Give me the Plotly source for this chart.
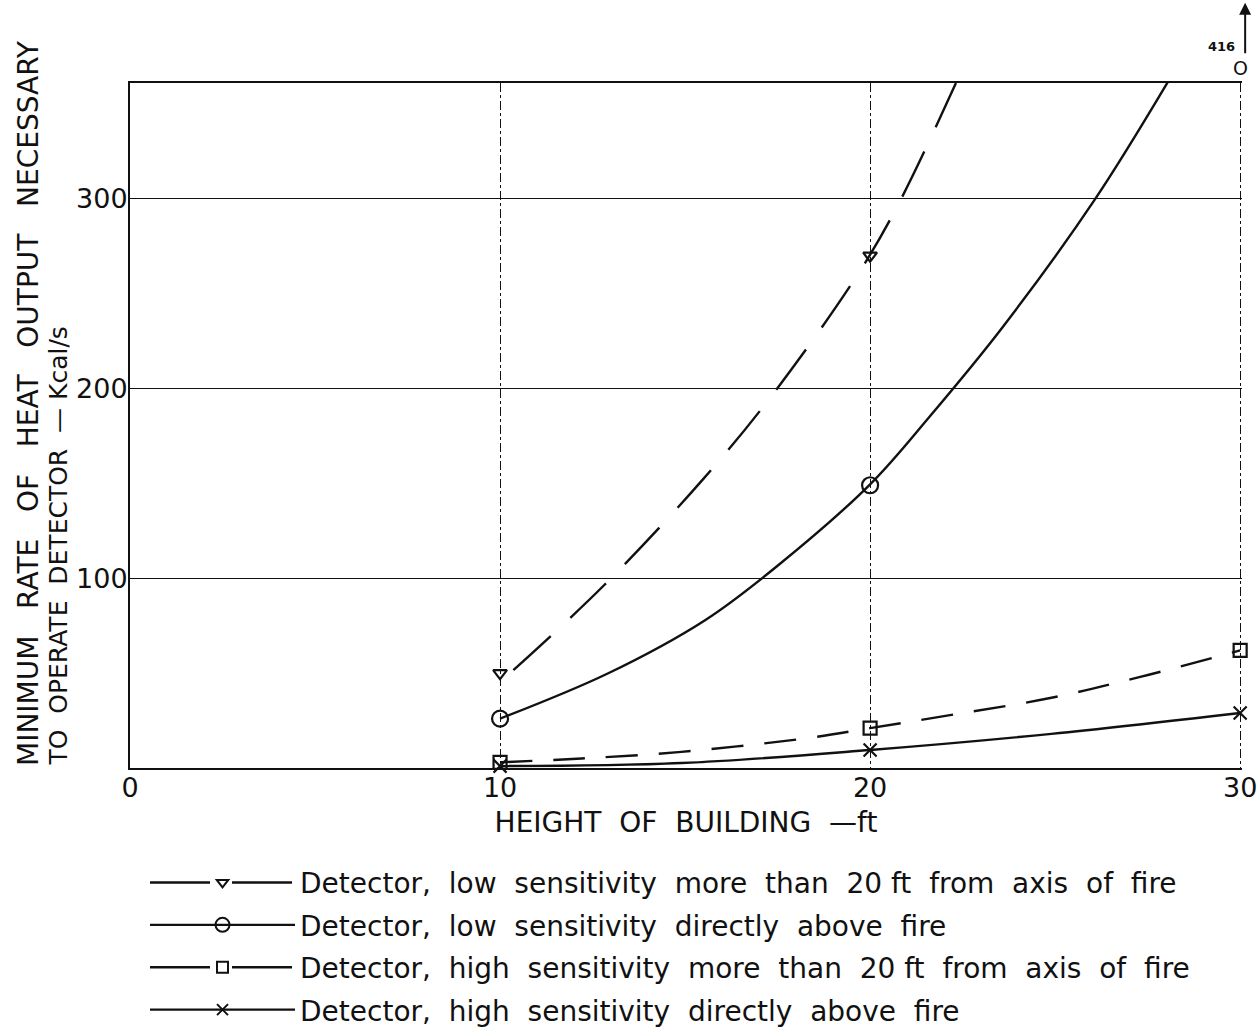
import plotly.graph_objects as go

# ---- data ----
heights = [10, 20, 30]
low_far = [50, 270, None]        # low sensitivity, > 20 ft from axis (off scale at 30 ft)
low_above = [26, 149, 416]       # low sensitivity, directly above fire (416 off scale)
high_far = [3, 21, 62]           # high sensitivity, > 20 ft from axis
high_above = [1, 9.5, 29]        # high sensitivity, directly above fire

# drawn curves
low_far_cx = [10.36, 12.81, 15.5, 17.45, 19.76, 20.84, 22.32]
low_far_cy = [51.6, 96.3, 152.5, 199, 263, 300, 361]
low_above_cx = [10, 12.91, 15.54, 17.5, 20, 21.6, 23.58, 26.08, 28.06]
low_above_cy = [26, 49.8, 77.9, 106.6, 149.5, 185, 232.3, 299.8, 362]
high_far_cx = [10, 12.2, 14.9, 18.4, 20, 22.2, 24.9, 27.3, 30]
high_far_cy = [3, 5, 8.5, 16, 21, 28, 37, 48, 62]
high_above_cx = [10, 14.9, 20, 24.9, 30]
high_above_cy = [1, 2.6, 9.5, 18, 29]

x_ticks = [0, 10, 20, 30]
x_ticklabels = ["0", "10", "20", "30"]
y_ticks = [100, 200, 300]
y_ticklabels = ["100", "200", "300"]

NB = "\u00a0"
S = NB + " "          # wide word gap like the stencil lettering
W = NB + NB + " "     # wider gap used on the long caption line
names = [
    f"Detector,{S}low{S}sensitivity{S}more{S}than{S}20{NB}ft{S}from{S}axis{S}of{S}fire",
    f"Detector,{S}low{S}sensitivity{S}directly{S}above{S}fire",
    f"Detector,{S}high{S}sensitivity{S}more{S}than{S}20{NB}ft{S}from{S}axis{S}of{S}fire",
    f"Detector,{S}high{S}sensitivity{S}directly{S}above{S}fire",
]

INK = "#111111"
FONT = "DejaVu Sans"

series = [
    dict(cx=low_far_cx, cy=low_far_cy, y=low_far, dash="50px,27px",
         symbol="triangle-down-open", size=12, clip=False),
    dict(cx=low_above_cx, cy=low_above_cy, y=low_above, dash="solid",
         symbol="circle-open", size=16, clip=True),
    dict(cx=high_far_cx, cy=high_far_cy, y=high_far, dash="32px,21px",
         symbol="square-open", size=13, clip=False),
    dict(cx=high_above_cx, cy=high_above_cy, y=high_above, dash="solid",
         symbol="x-thin-open", size=13, clip=False),
]
legend_dash = ["60px,22px", "solid", "60px,22px", "solid"]

fig = go.Figure()
for i, s in enumerate(series):
    fig.add_trace(go.Scatter(
        x=s["cx"], y=s["cy"], mode="lines",
        line=dict(color=INK, width=2.4, dash=s["dash"], shape="spline", smoothing=1.0),
        showlegend=False, hoverinfo="skip"))
    fig.add_trace(go.Scatter(
        x=heights, y=s["y"], mode="markers", cliponaxis=s["clip"],
        marker=dict(symbol=s["symbol"], size=s["size"], color=INK,
                    line=dict(width=2.2, color=INK)),
        showlegend=False))
    fig.add_trace(go.Scatter(
        x=[None], y=[None], mode="lines+markers", name=names[i],
        legendgroup=f"g{i}",
        line=dict(color=INK, width=2.4, dash=legend_dash[i]),
        marker=dict(symbol=s["symbol"], size=s["size"] - 2, color=INK,
                    line=dict(width=2, color=INK))))

fig.update_layout(
    width=1260, height=1027,
    margin=dict(l=130, r=18, t=83, b=259, autoexpand=False),
    paper_bgcolor="white", plot_bgcolor="white",
    font=dict(family=FONT, color=INK, size=22),
    showlegend=True,
    legend=dict(x=0.0135, y=-0.131, xanchor="left", yanchor="top",
                font=dict(size=28, family=FONT, color=INK),
                tracegroupgap=3, itemwidth=145, bgcolor="rgba(0,0,0,0)"),
    xaxis=dict(range=[0, 30.05], tickvals=x_ticks, ticktext=x_ticklabels,
               showline=True, linecolor=INK, linewidth=2, mirror=True,
               showgrid=True, gridcolor=INK, gridwidth=1.2, griddash="dashdot",
               zeroline=False, ticks="", ticklabelstandoff=-5,
               tickfont=dict(size=27, family=FONT),
               title=dict(text=f"HEIGHT{S}OF{S}BUILDING{S}—ft",
                          font=dict(size=28, family=FONT), standoff=10)),
    yaxis=dict(range=[0, 361], tickvals=y_ticks, ticktext=y_ticklabels,
               showline=True, linecolor=INK, linewidth=2, mirror=False,
               showgrid=True, gridcolor=INK, gridwidth=1.3,
               zeroline=False, ticks="", ticklabelstandoff=-5,
               tickfont=dict(size=27, family=FONT)),
)

# rotated two-line y-axis caption (each line bottom-aligned at the x axis)
fig.add_annotation(
    xref="paper", yref="paper", x=-0.0917, y=0, xanchor="center", yanchor="bottom",
    textangle=-90, showarrow=False,
    text=f"MINIMUM{W}RATE{W}OF{W}HEAT{W}OUTPUT{W}NECESSARY",
    font=dict(size=28, family=FONT, color=INK))
fig.add_annotation(
    xref="paper", yref="paper", x=-0.0647, y=0, xanchor="center", yanchor="bottom",
    textangle=-90, showarrow=False,
    text=f"TO{S}OPERATE{S}DETECTOR{S}—{NB}Kcal/s",
    font=dict(size=25, family=FONT, color=INK))

# off-scale point at 30 ft (416 Kcal/s)
fig.add_annotation(xref="x", yref="paper", x=30, y=1.022, yanchor="middle",
                   showarrow=False, text="O",
                   font=dict(size=19, family=FONT, color=INK))
fig.add_annotation(xref="x", yref="paper", x=30, y=1.067, xanchor="right",
                   xshift=-3, showarrow=False, text="<b>416</b>",
                   font=dict(size=13, family=FONT, color=INK))
fig.add_annotation(xref="x", yref="paper", x=30, y=1.117, xshift=5,
                   ax=0, ay=52, showarrow=True, arrowhead=2, arrowsize=1.2,
                   arrowwidth=2, arrowcolor=INK, text="")

fig.write_html("out.html")
